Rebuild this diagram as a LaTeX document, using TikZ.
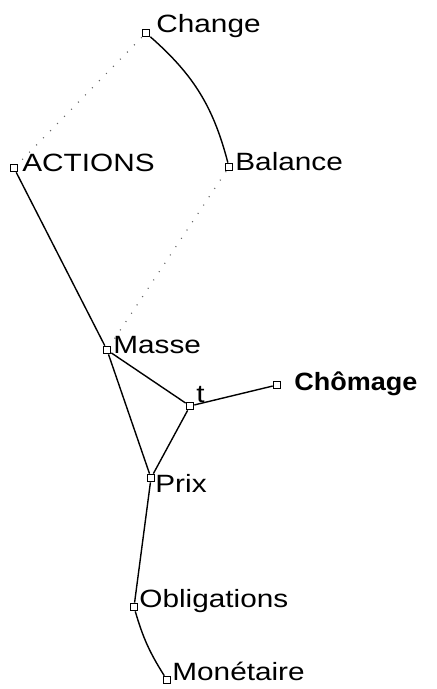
\documentclass[tikz,border=0pt]{standalone}
\usepackage{fontspec}
\setmainfont{Liberation Sans}[FakeStretch=1.19, BoldFeatures={FakeStretch=1.08}]
\usepackage{tikz}

\begin{document}
\begin{tikzpicture}[x=0.5pt, y=-0.5pt,
    vertex/.style={draw, rectangle, minimum size=3.8pt, inner sep=0pt, line width=0.55pt, fill=white},
    lbl/.style={anchor=base west, inner sep=0pt, font=\fontsize{12.5}{15}\selectfont},
    edge/.style={line width=0.7pt},
    faint/.style={black!60, line width=0.6pt, dash pattern=on 0.5pt off 4.5pt}]

    \useasboundingbox (0,0) rectangle (436,689);

    % points of the graph
    \node[vertex] (change) at (146,33) {};
    \node[vertex] (actions) at (14,168) {};
    \node[vertex] (balance) at (229,167) {};
    \node[vertex] (masse) at (107,350) {};
    \node[vertex] (t) at (190,406) {};
    \node[vertex] (chomage) at (277,385) {};
    \node[vertex] (prix) at (151,478) {};
    \node[vertex] (obligations) at (134,607) {};
    \node[vertex] (monetaire) at (167,680) {};

    % links
    \draw[edge, bend left=17] (change) to (balance);
    \draw[faint] (change) -- (actions);
    \draw[faint] (balance) -- (masse);
    \draw[edge] (actions) -- (masse);
    \draw[edge] (masse) -- (t);
    \draw[edge] (masse) -- (prix);
    \draw[edge] (t) -- (prix);
    \draw[edge] (t) -- (chomage);
    \draw[edge] (prix) -- (obligations);
    \draw[edge, bend right=8] (obligations) to (monetaire);

    % names
    \node[lbl] (changelbl) at (156,33) {Change};
    \node[lbl] (actionslbl) at (22,172) {ACTIONS};
    \node[lbl] (balancelbl) at (235,171) {Balance};
    \node[lbl] (masselbl) at (113,353) {Masse};
    \node[lbl] (tlbl) at (196,402) {t};
    \node[lbl] (chomagelbl) at (294,390) {\textbf{Chômage}};
    \node[lbl] (prixlbl) at (155,492) {Prix};
    \node[lbl] (obligationslbl) at (139,607) {Obligations};
    \node[lbl] (monetairelbl) at (172,680) {Monétaire};
\end{tikzpicture}
\end{document}
